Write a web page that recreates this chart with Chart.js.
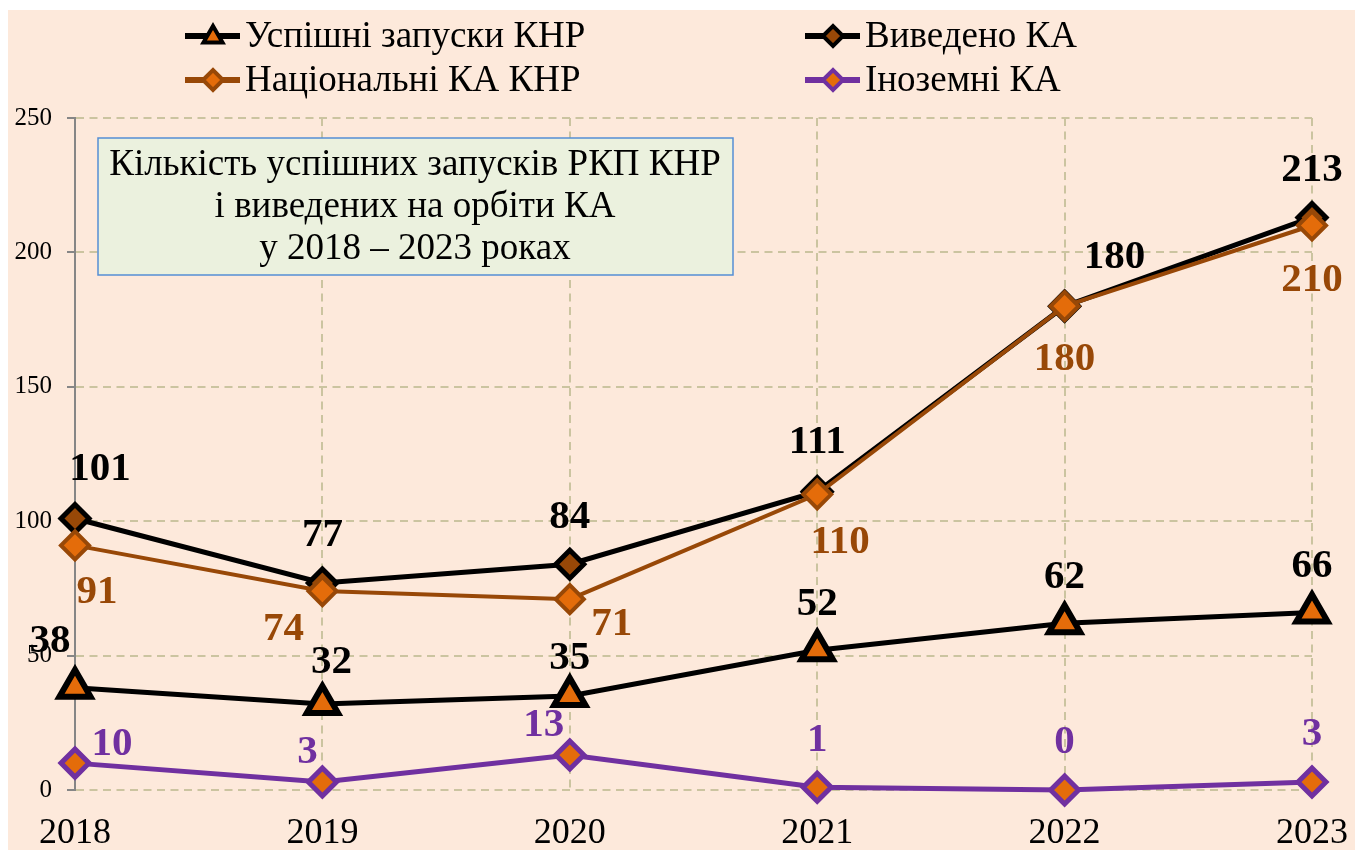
<!DOCTYPE html>
<html>
<head>
<meta charset="utf-8">
<script src="https://cdn.jsdelivr.net/npm/chart.js@4.4.0/dist/chart.umd.min.js"></script>
<style>
  html, body { margin: 0; padding: 0; background: #fff; }
  #chart { position: absolute; left: 0; top: 0; }
</style>
</head>
<body>
<canvas id="chart" width="1355" height="850"></canvas>
<script>
var years = ['2018', '2019', '2020', '2021', '2022', '2023'];
var launches = [38, 32, 35, 52, 62, 66];
var satsTotal = [101, 77, 84, 111, 180, 213];
var satsNational = [91, 74, 71, 110, 180, 210];
var satsForeign = [10, 3, 13, 1, 0, 3];
var yTicks = [0, 50, 100, 150, 200, 250];
var titleLines = ['Кількість успішних запусків РКП КНР', 'і виведених на орбіти КА', 'у 2018 – 2023 роках'];

var SERIF = '"Liberation Serif", "Times New Roman", serif';
var ORANGE = '#E46C0A';
var BROWN = '#984807';
var PURPLE = '#7030A0';
var GRID = '#CBC4A0';

// datasets: index 0 is drawn on top
var datasets = [
  {
    label: 'Іноземні КА', data: satsForeign,
    borderColor: PURPLE, borderWidth: 5,
    pointStyle: 'rectRot', pointRadius: 14, pointBorderWidth: 5,
    pointBackgroundColor: ORANGE, pointBorderColor: PURPLE,
    labelColor: PURPLE,
    labelOffsets: [[37, -21], [-15, -32], [-26, -32], [0, -49], [0, -50], [0, -50]]
  },
  {
    label: 'Національні КА КНР', data: satsNational,
    borderColor: BROWN, borderWidth: 4,
    pointStyle: 'rectRot', pointRadius: 14, pointBorderWidth: 4,
    pointBackgroundColor: ORANGE, pointBorderColor: BROWN,
    labelColor: BROWN,
    labelOffsets: [[22, 45], [-39, 36], [42, 23], [23, 46], [0, 51], [0, 53]]
  },
  {
    label: 'Виведено КА', data: satsTotal,
    borderColor: '#000', borderWidth: 5,
    pointStyle: 'rectRot', pointRadius: 14, pointBorderWidth: 5,
    pointBackgroundColor: BROWN, pointBorderColor: '#000',
    labelColor: '#000',
    labelOffsets: [[25, -51], [0, -50], [0, -49], [0, -51], [50, -51], [0, -49]]
  },
  {
    label: 'Успішні запуски КНР', data: launches,
    borderColor: '#000', borderWidth: 5,
    pointStyle: 'triangle', pointRadius: 18, pointBorderWidth: 6,
    pointBackgroundColor: ORANGE, pointBorderColor: '#000',
    labelColor: '#000',
    labelOffsets: [[-25, -48], [9, -44], [0, -40], [0, -48], [0, -48], [0, -48]]
  }
];
datasets.forEach(function (d) {
  d.tension = 0;
  d.clip = false;
  d.pointHoverRadius = d.pointRadius;
});

// legend layout: [dataset label, x of line start, y]
var legendSlots = [
  ['Успішні запуски КНР', 185, 36],
  ['Виведено КА', 805, 36],
  ['Національні КА КНР', 185, 80],
  ['Іноземні КА', 805, 80]
];

var decor = {
  id: 'decor',
  beforeDraw: function (chart) {
    var ctx = chart.ctx;
    ctx.save();
    ctx.fillStyle = '#fff';
    ctx.fillRect(0, 0, chart.width, chart.height);
    ctx.fillStyle = '#FDE9DB';
    ctx.fillRect(8, 10, chart.width - 8, chart.height - 10);
    ctx.restore();
  },
  afterDatasetsDraw: function (chart) {
    var ctx = chart.ctx;
    ctx.save();
    // title box
    ctx.fillStyle = '#EBF1DE';
    ctx.fillRect(98, 138, 635, 137);
    ctx.strokeStyle = '#558ED5';
    ctx.lineWidth = 1.5;
    ctx.strokeRect(98, 138, 635, 137);
    ctx.fillStyle = '#000';
    ctx.font = '37px ' + SERIF;
    ctx.textAlign = 'center';
    ctx.textBaseline = 'middle';
    titleLines.forEach(function (t, i) {
      ctx.fillText(t, 415, 165 + i * 42);
    });

    // data labels
    ctx.font = 'bold 41px ' + SERIF;
    chart.data.datasets.forEach(function (ds, di) {
      var meta = chart.getDatasetMeta(di);
      ctx.fillStyle = ds.labelColor;
      meta.data.forEach(function (pt, i) {
        var off = ds.labelOffsets[i];
        ctx.fillText(String(ds.data[i]), pt.x + off[0], pt.y + off[1] + 2);
      });
    });

    // legend
    legendSlots.forEach(function (slot) {
      var ds = chart.data.datasets.find(function (d) { return d.label === slot[0]; });
      var x = slot[1], y = slot[2];
      ctx.strokeStyle = ds.borderColor;
      ctx.lineWidth = 6;
      ctx.beginPath();
      ctx.moveTo(x, y);
      ctx.lineTo(x + 55, y);
      ctx.stroke();
      ctx.fillStyle = ds.pointBackgroundColor;
      ctx.strokeStyle = ds.pointBorderColor;
      ctx.lineWidth = 4;
      Chart.helpers.drawPoint(ctx, {
        pointStyle: ds.pointStyle, rotation: 0,
        radius: ds.pointStyle === 'triangle' ? 11 : 10, borderWidth: 4
      }, x + 28, y + (ds.pointStyle === 'triangle' ? 1 : 0));
      ctx.fillStyle = '#000';
      ctx.font = '37px ' + SERIF;
      ctx.textAlign = 'left';
      ctx.fillText(ds.label, x + 60, y + 1);
    });
    ctx.restore();
  }
};

new Chart(document.getElementById('chart').getContext('2d'), {
  type: 'line',
  data: { labels: years, datasets: datasets },
  plugins: [decor],
  options: {
    responsive: false,
    animation: false,
    events: [],
    layout: { padding: { left: 8, right: 43, top: 118, bottom: 0 } },
    plugins: { legend: { display: false }, tooltip: { enabled: false } },
    scales: {
      x: {
        offset: false,
        afterFit: function (s) { s.height = 60; s.paddingLeft = 0; s.paddingRight = 0; },
        grid: { color: GRID, lineWidth: 2, drawTicks: false },
        border: { display: false, dash: [8, 5.5] },
        ticks: { color: '#000', font: { family: SERIF, size: 36 }, padding: 22, maxRotation: 0 }
      },
      y: {
        min: 0, max: 250,
        afterFit: function (s) { s.width = 67; },
        afterBuildTicks: function (s) { s.ticks = yTicks.map(function (v) { return { value: v }; }); },
        grid: { color: GRID, lineWidth: 2, tickColor: '#868686', tickLength: 8, tickWidth: 2, tickBorderDash: [] },
        border: { display: true, color: '#868686', width: 2, dash: [8, 5.5] },
        ticks: { color: '#000', font: { family: SERIF, size: 25 }, padding: 15 }
      }
    }
  }
});
</script>
</body>
</html>
